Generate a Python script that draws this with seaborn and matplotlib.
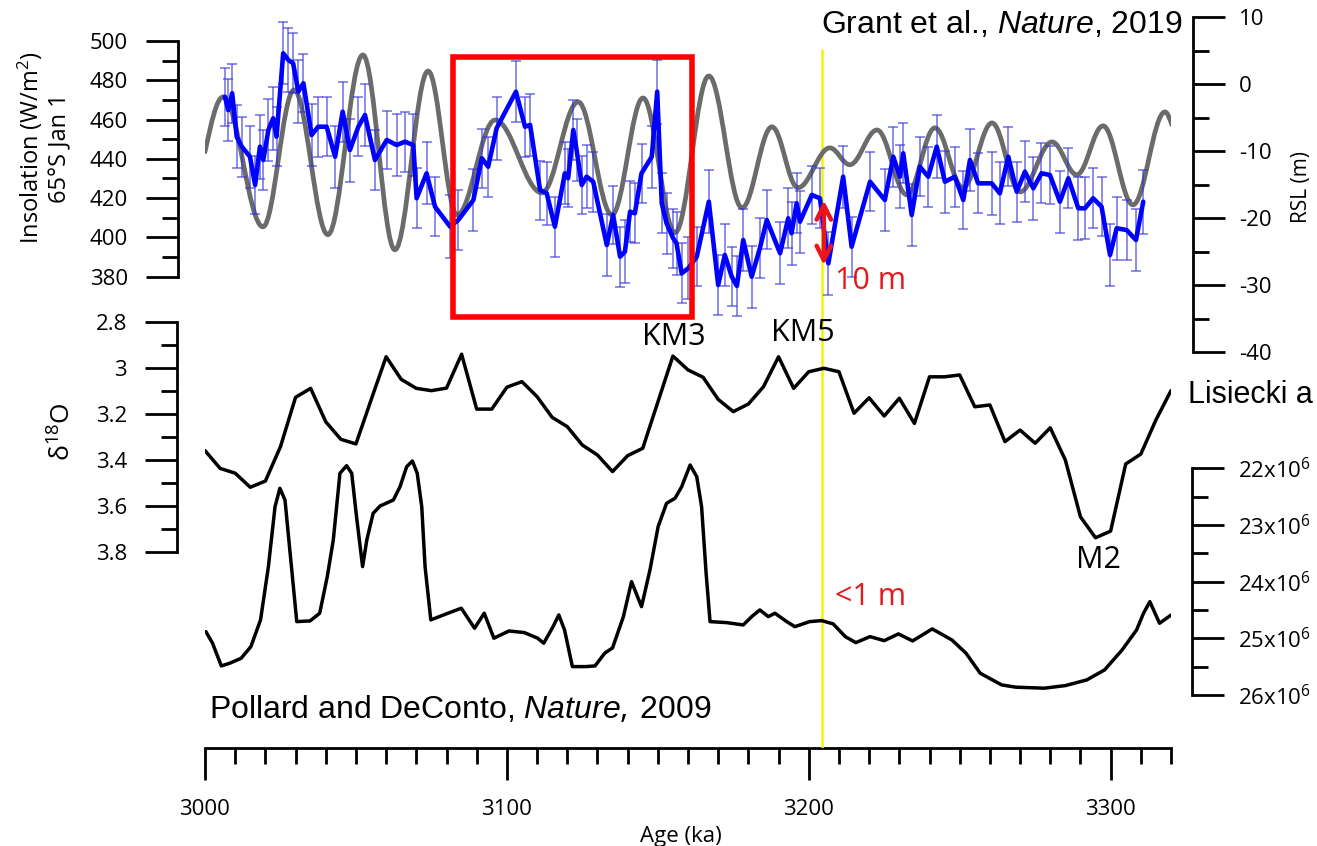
import numpy as np
import matplotlib
matplotlib.use("Agg")
import matplotlib.pyplot as plt
from matplotlib.path import Path
from matplotlib.patches import PathPatch, Rectangle
from matplotlib.ticker import FixedLocator, FuncFormatter
import seaborn as sns

# ---------------- data ----------------
# 65S Jan 1 insolation (W/m2): turning points of the orbital curve
ins_age = [3000.0, 3006.0, 3019.2, 3029.5, 3040.7, 3052.3, 3062.9, 3073.9, 3083.5, 3096.1,
           3111.6, 3123.6, 3134.8, 3145.1, 3155.7, 3166.9, 3177.9, 3187.8, 3196.4, 3207.0,
           3213.6, 3222.6, 3232.5, 3241.8, 3251.1, 3260.7, 3270.0, 3280.6, 3288.8, 3297.5,
           3307.4, 3318.0, 3320.3]
ins_val = [443.6, 471.5, 405.4, 475.1, 401.4, 492.9, 393.7, 484.7, 411.5, 459.8,
           422.7, 469.0, 411.5, 471.0, 402.4, 482.2, 415.1, 456.3, 425.3, 445.6,
           437.0, 454.7, 421.7, 455.8, 425.3, 458.3, 423.2, 448.6, 431.9, 456.8,
           416.6, 463.9, 457.3]

# Relative sea level (m), Grant et al. 2019
rsl_age = [3006.6, 3007.7, 3009.0, 3010.5, 3012.2, 3014.9, 3016.6, 3018.2, 3019.3, 3021.0,
           3022.6, 3023.7, 3025.9, 3027.6, 3029.2, 3030.9, 3032.6, 3035.3, 3037.5, 3040.3,
           3043.1, 3045.6, 3048.0, 3050.8, 3053.0, 3056.3, 3060.2, 3063.5, 3066.2, 3069.0,
           3070.1, 3073.4, 3076.2, 3081.2, 3083.9, 3088.9, 3091.7, 3093.8, 3096.6, 3103.0,
           3106.0, 3107.7, 3111.0, 3113.2, 3115.9, 3119.2, 3120.3, 3122.0, 3123.1, 3124.8,
           3126.4, 3128.6, 3133.1, 3135.2, 3137.5, 3139.1, 3140.8, 3142.4, 3144.6, 3148.0,
           3149.8, 3151.3, 3152.9, 3155.1, 3156.2, 3157.9, 3160.1, 3162.9, 3166.9, 3170.0,
           3172.2, 3174.5, 3176.2, 3178.3, 3181.1, 3183.8, 3186.1, 3190.5, 3193.2, 3194.3,
           3196.0, 3197.1, 3201.0, 3203.7, 3206.5, 3211.4, 3214.2, 3220.3, 3225.2, 3228.0,
           3230.2, 3231.3, 3234.1, 3236.8, 3239.6, 3242.4, 3245.1, 3248.4, 3251.2, 3253.4,
           3256.1, 3260.6, 3263.3, 3266.1, 3268.9, 3271.6, 3274.4, 3277.1, 3279.9, 3283.2,
           3286.0, 3289.3, 3291.5, 3294.2, 3297.0, 3299.8, 3302.0, 3305.3, 3308.4, 3310.8]
rsl_val = [-1.85, -3.84, -1.34, -7.82, -9.31, -10.81, -15.03, -9.31, -11.30, -6.82,
           -5.07, -7.82, 4.63, 3.63, 3.13, -1.10, 0.15, -7.57, -6.33, -6.33,
           -10.81, -4.09, -9.81, -6.33, -4.58, -11.30, -8.31, -9.06, -8.57, -9.06,
           -17.01, -13.28, -18.27, -21.25, -20.25, -17.27, -11.04, -12.30, -6.57, -1.10,
           -6.33, -6.07, -15.78, -16.27, -21.25, -13.28, -14.03, -6.82, -9.81, -15.03,
           -13.79, -14.54, -23.99, -19.51, -25.73, -24.99, -19.01, -19.25, -13.28, -10.81,
           -1.10, -17.76, -20.75, -22.99, -23.73, -28.21, -27.46, -25.73, -17.52, -29.96,
           -25.48, -28.72, -30.10, -23.24, -28.72, -24.48, -20.25, -25.22, -20.00, -22.24,
           -17.76, -20.51, -16.52, -17.01, -26.72, -13.79, -24.24, -14.54, -17.27, -10.81,
           -13.79, -10.30, -19.51, -12.30, -13.79, -9.31, -14.54, -13.79, -17.27, -11.30,
           -14.78, -14.78, -16.27, -10.81, -16.03, -13.04, -15.52, -13.28, -13.54, -17.52,
           -14.03, -18.51, -18.51, -17.01, -18.27, -25.48, -21.49, -21.75, -23.24, -17.52]
rsl_err = [4.3, 4.6, 4.4, 4.7, 4.5, 4.6, 4.4, 4.8, 4.5, 4.6,
           4.7, 4.4, 4.6, 4.8, 4.5, 4.7, 4.3, 4.6, 4.5, 4.4,
           4.6, 4.5, 4.7, 4.4, 4.6, 4.5, 4.3, 4.6, 4.5, 4.7,
           4.5, 4.6, 4.4, 4.7, 4.5, 4.6, 4.4, 4.5, 4.7, 4.6,
           4.5, 4.6, 4.4, 4.7, 4.5, 4.6, 4.3, 4.5, 4.6, 4.4,
           4.7, 4.5, 4.6, 4.4, 4.5, 4.7, 4.6, 4.5, 4.4, 4.6,
           4.8, 4.5, 4.6, 4.4, 4.7, 4.5, 4.6, 4.4, 4.7, 4.5,
           4.6, 4.4, 4.5, 4.7, 4.6, 4.5, 4.4, 4.6, 4.5, 4.7,
           4.5, 4.6, 4.4, 4.5, 4.7, 4.6, 4.5, 4.4, 4.6, 4.5,
           4.7, 4.5, 4.6, 4.4, 4.5, 4.7, 4.6, 4.5, 4.4, 4.6,
           4.5, 4.7, 4.6, 4.4, 4.5, 4.6, 4.7, 4.5, 4.4, 4.6,
           4.5, 4.7, 4.6, 4.5, 4.4, 4.6, 4.7, 4.5, 4.6, 4.8]

# Benthic d18O stack (Lisiecki and Raymo)
d18o_age = [3000, 3005, 3010, 3015, 3020, 3025, 3030, 3035, 3040, 3045,
            3050, 3055, 3060, 3065, 3070, 3075, 3080, 3085, 3090, 3095,
            3100, 3105, 3110, 3115, 3120, 3125, 3130, 3135, 3140, 3145,
            3155, 3160, 3165, 3170, 3175, 3180, 3185, 3190, 3195, 3200,
            3205, 3210, 3215, 3220, 3225, 3230, 3235, 3240, 3245, 3250,
            3255, 3260, 3265, 3270, 3275, 3280, 3285, 3290, 3295, 3300,
            3305, 3310, 3315, 3320]
d18o_val = [3.359, 3.436, 3.457, 3.518, 3.491, 3.342, 3.128, 3.089, 3.234, 3.310,
            3.330, 3.140, 2.952, 3.050, 3.089, 3.099, 3.088, 2.941, 3.179, 3.179,
            3.084, 3.060, 3.125, 3.215, 3.255, 3.335, 3.378, 3.450, 3.381, 3.349,
            2.949, 3.009, 3.041, 3.137, 3.190, 3.157, 3.082, 2.952, 3.089, 3.017,
            3.002, 3.017, 3.197, 3.130, 3.209, 3.132, 3.241, 3.039, 3.039, 3.031,
            3.169, 3.161, 3.320, 3.270, 3.327, 3.260, 3.400, 3.646, 3.737, 3.708,
            3.417, 3.374, 3.226, 3.099]

# Antarctic ice volume (x10^6 km3), Pollard and DeConto 2009
ice_age = [3000.3, 3002.5, 3005.4, 3008.2, 3012.0, 3015.2, 3018.4, 3021.0, 3023.2, 3024.8,
           3026.5, 3028.2, 3030.4, 3034.8, 3038.0, 3040.5, 3042.5, 3044.7, 3046.9, 3048.6,
           3050.2, 3052.2, 3053.6, 3055.7, 3058.0, 3062.4, 3064.6, 3066.8, 3068.7, 3070.3,
           3071.8, 3072.9, 3074.8, 3080.5, 3084.9, 3089.3, 3092.5, 3095.7, 3100.7, 3105.8,
           3110.2, 3112.2, 3115.3, 3117.2, 3119.1, 3121.7, 3126.1, 3129.2, 3132.4, 3135.0,
           3138.6, 3141.3, 3144.6, 3147.4, 3150.1, 3152.9, 3155.7, 3157.9, 3160.7, 3162.9,
           3164.5, 3166.0, 3167.3, 3172.8, 3178.3, 3181.1, 3183.8, 3186.6, 3188.8, 3192.7,
           3195.4, 3200.3, 3204.3, 3208.1, 3212.1, 3215.6, 3220.3, 3225.0, 3229.7, 3234.4,
           3240.9, 3247.4, 3252.1, 3256.8, 3263.9, 3268.6, 3278.0, 3285.0, 3292.1, 3298.0,
           3303.8, 3308.6, 3310.9, 3313.0, 3316.2, 3320.1]
ice_mkm3 = [24.882, 25.086, 25.487, 25.439, 25.351, 25.146, 24.675, 23.735, 22.677, 22.353,
            22.559, 23.499, 24.705, 24.693, 24.557, 23.912, 23.265, 22.088, 21.954, 22.088,
            22.854, 23.735, 23.265, 22.794, 22.665, 22.559, 22.325, 21.972, 21.871, 22.088,
            22.677, 23.735, 24.675, 24.557, 24.469, 24.822, 24.557, 24.998, 24.870, 24.899,
            24.998, 25.086, 24.794, 24.587, 24.852, 25.499, 25.499, 25.487, 25.263, 25.169,
            24.617, 24.000, 24.441, 23.794, 23.030, 22.617, 22.529, 22.325, 21.942, 22.148,
            22.677, 23.852, 24.705, 24.723, 24.764, 24.617, 24.499, 24.617, 24.557, 24.705,
            24.794, 24.705, 24.688, 24.746, 24.970, 25.076, 24.970, 25.041, 24.922, 25.046,
            24.834, 25.028, 25.263, 25.616, 25.822, 25.862, 25.880, 25.834, 25.734, 25.557,
            25.205, 24.852, 24.557, 24.353, 24.734, 24.587]

# axis ticks
age_major = [3000, 3100, 3200, 3300]
age_minor = [3000 + 10 * i for i in range(33)]
ins_major = [380, 400, 420, 440, 460, 480, 500]
ins_minor = [390, 410, 430, 450, 470, 490]
rsl_major = [-40, -30, -20, -10, 0, 10]
rsl_minor = [-35, -25, -15, -5, 5]
d18o_major = [2.8, 3.0, 3.2, 3.4, 3.6, 3.8]
d18o_minor = [2.9, 3.1, 3.3, 3.5, 3.7]
ice_major = [22e6, 23e6, 24e6, 25e6, 26e6]
ice_minor = [22.5e6, 23.5e6, 24.5e6, 25.5e6]

# annotation anchors
MARK_AGE = 3204.5
BOX_AGE = (3082.2, 3161.3)
BOX_RSL = (-34.8, 4.1)
ARROW_AGE = 3205.0
ARROW_RSL = (-17.3, -27.0)

# ---------------- styling ----------------
sns.set_theme(style="ticks")
plt.rcParams["font.family"] = ["Open Sans", "DejaVu Sans"]
plt.rcParams["axes.unicode_minus"] = False
plt.rcParams["mathtext.fontset"] = "custom"
plt.rcParams["mathtext.rm"] = "Open Sans"
plt.rcParams["mathtext.it"] = "Liberation Sans:italic"
for k in ["text.color", "axes.labelcolor", "xtick.color", "ytick.color", "axes.edgecolor"]:
    plt.rcParams[k] = "black"

W, H = 1317, 846
L, R, T, B = 205, 1171, 5, 748          # plot frame in pixels
fig = plt.figure(figsize=(W / 100, H / 100), dpi=100)
fig.patch.set_facecolor("white")
ax = fig.add_axes([L / W, 1 - B / H, (R - L) / W, (B - T) / H])
ax.set_facecolor("none")

SPW = 2.0
MAJ, MIN = 23, 11.5
TFS = 16
CITE = ["Liberation Sans", "DejaVu Sans"]


def frac(px):
    return (px - L) / (R - L)


def lims(va, pa, vb, pb):
    s = (vb - va) / (pb - pa)
    return va + (B - pa) * s, va + (T - pa) * s


# base x axis
for s in ["top", "left", "right"]:
    ax.spines[s].set_visible(False)
ax.spines["bottom"].set_linewidth(SPW)
ax.spines["bottom"].set_bounds(3000, 3320)
ax.set_yticks([])
ax.xaxis.set_major_locator(FixedLocator(age_major))
ax.xaxis.set_minor_locator(FixedLocator(age_minor))
ax.tick_params(axis="x", which="major", direction="out", length=MAJ, width=SPW,
               labelsize=TFS, pad=14, bottom=True)
ax.tick_params(axis="x", which="minor", direction="out", length=MIN, width=SPW, bottom=True)
ax.set_xlabel("Age (ka)", fontsize=16)
ax.xaxis.label.set_verticalalignment("baseline")
ax.xaxis.set_label_coords(frac(681), (B - 842) / (B - T))


def make_axis(side, pos_px, bounds, major, minor, fmt, pad):
    a = ax.twinx()
    a.set_facecolor("none")
    for s in ["top", "bottom", "left", "right"]:
        a.spines[s].set_visible(False)
    a.spines[side].set_visible(True)
    a.spines[side].set_position(("axes", frac(pos_px)))
    a.spines[side].set_linewidth(SPW)
    a.spines[side].set_bounds(*bounds)
    a.yaxis.set_ticks_position(side)
    a.yaxis.set_label_position(side)
    a.yaxis.set_major_locator(FixedLocator(major))
    a.yaxis.set_minor_locator(FixedLocator(minor))
    a.yaxis.set_major_formatter(FuncFormatter(fmt))
    a.tick_params(axis="y", which="major", direction="out", length=MAJ, width=SPW,
                  labelsize=TFS, pad=pad)
    a.tick_params(axis="y", which="minor", direction="out", length=MIN, width=SPW)
    a.tick_params(axis="x", which="both", bottom=False, top=False,
                  labelbottom=False, labeltop=False)
    return a


# ---- insolation (gray) ----
ax_ins = make_axis("left", 178, (380, 500), ins_major, ins_minor,
                   lambda v, p: f"{v:.0f}", 13)
verts = [(ins_age[0], ins_val[0])]
codes = [Path.MOVETO]
n = len(ins_age)
for i in range(n - 1):
    x0, y0, x1, y1 = ins_age[i], ins_val[i], ins_age[i + 1], ins_val[i + 1]
    dx = x1 - x0
    c1 = (x0 + dx / 3, y0 + 0.5 * (y1 - y0)) if i == 0 else (x0 + 0.3642 * dx, y0)
    c2 = (x1 - dx / 3, y1 - 0.5 * (y1 - y0)) if i == n - 2 else (x1 - 0.3642 * dx, y1)
    verts += [c1, c2, (x1, y1)]
    codes += [Path.CURVE4] * 3
ax_ins.add_patch(PathPatch(Path(verts, codes), facecolor="none", edgecolor="#6b6b6b",
                           lw=3.4, zorder=3, capstyle="round", joinstyle="round"))
ax_ins.axvline(MARK_AGE, ymin=0, ymax=(B - 50) / (B - T), color="#f2f20a", lw=1.8, zorder=1)
ax_ins.set_ylim(*lims(500, 41, 380, 276.7))
ax_ins.set_ylabel("Insolation (W/m$^{2}$)\n65°S Jan 1", fontsize=17, linespacing=1.15)
ax_ins.yaxis.label.set_verticalalignment("center")
ax_ins.yaxis.label.set_multialignment("center")
ax_ins.yaxis.set_label_coords(frac(44), (B - 148) / (B - T))

# ---- RSL (blue) ----
ax_rsl = make_axis("right", 1193, (-40, 10), rsl_major, rsl_minor,
                   lambda v, p: f"{v:.0f}", 10)
ax_rsl.errorbar(rsl_age, rsl_val, yerr=rsl_err, fmt="none", ecolor=(0.2, 0.2, 0.85, 0.7),
                elinewidth=1.1, capsize=3.5, capthick=1.1, zorder=2)
sns.lineplot(x=rsl_age, y=rsl_val, ax=ax_rsl, color="#0000ff", linewidth=3.3,
             sort=False, estimator=None, errorbar=None, zorder=3)
ax_rsl.add_patch(Rectangle((BOX_AGE[0], BOX_RSL[0]), BOX_AGE[1] - BOX_AGE[0],
                           BOX_RSL[1] - BOX_RSL[0], fill=False, edgecolor="#ff0000",
                           lw=4, zorder=6))
ax_rsl.annotate("", xy=(ARROW_AGE, ARROW_RSL[1]), xytext=(ARROW_AGE, ARROW_RSL[0]),
                arrowprops=dict(arrowstyle="<->", color="#e8161b", lw=3.2,
                                mutation_scale=26, shrinkA=0, shrinkB=0), zorder=7)
ax_rsl.text(3220.6, -29.4, "10 m", color="#e31a1c", fontsize=22, ha="center", va="center")
ax_rsl.text(3323.9, 7.66, r"Grant et al., $\mathit{Nature}$, 2019", family=CITE,
            fontsize=23, ha="right", va="baseline")
ax_rsl.set_ylim(*lims(10, 17.3, -40, 352.3))
ax_rsl.set_ylabel("RSL (m)", fontsize=15)
ax_rsl.yaxis.label.set_verticalalignment("center")
ax_rsl.yaxis.set_label_coords(frac(1302), (B - 187) / (B - T))

# ---- d18O (black) ----
ax_d18 = make_axis("left", 177, (2.8, 3.8), d18o_major, d18o_minor,
                   lambda v, p: f"{v:g}", 13)
sns.lineplot(x=d18o_age, y=d18o_val, ax=ax_d18, color="black", linewidth=2.5,
             sort=False, estimator=None, errorbar=None)
ax_d18.set_ylim(*lims(2.8, 321.7, 3.8, 552.3))
ax_d18.set_ylabel(r"δ$^{18}$O", fontsize=19)
ax_d18.yaxis.label.set_verticalalignment("center")
ax_d18.yaxis.set_label_coords(frac(63), (B - 432) / (B - T))
ax_d18.text(3155.3, 2.866, "KM3", fontsize=22, ha="center", va="center")
ax_d18.text(3198.1, 2.849, "KM5", fontsize=22, ha="center", va="center")
ax_d18.text(3296.1, 3.833, "M2", fontsize=22, ha="center", va="center")
ax_d18.text(3325.6, 3.118, "Lisiecki a", family=CITE, fontsize=22, ha="left", va="center")

# ---- ice volume (black) ----
ax_ice = make_axis("right", 1192, (22e6, 26e6), ice_major, ice_minor,
                   lambda v, p: f"{v / 1e6:.0f}x10$^{{6}}$", 10)
sns.lineplot(x=ice_age, y=np.array(ice_mkm3) * 1e6, ax=ax_ice, color="black", linewidth=2.5,
             sort=False, estimator=None, errorbar=None)
ax_ice.set_ylim(*lims(22e6, 468.3, 26e6, 695))
ax_ice.set_ylabel("")
ax_ice.text(3220.6, 24.27e6, "<1 m", color="#e31a1c", fontsize=22, ha="center", va="center")
ax_ice.text(3001.2, 26.404e6, r"Pollard and DeConto, $\mathit{Nature,}$" + "\u2009" + "2009",
            family=CITE, fontsize=23, ha="left", va="baseline")

for a in [ax, ax_ins, ax_rsl, ax_d18, ax_ice]:
    a.set_xlim(3000, 3320)
for a in [ax_ins, ax_rsl, ax_d18, ax_ice]:
    a.set_xlabel("")

fig.savefig("out.png", dpi=100, facecolor="white")
